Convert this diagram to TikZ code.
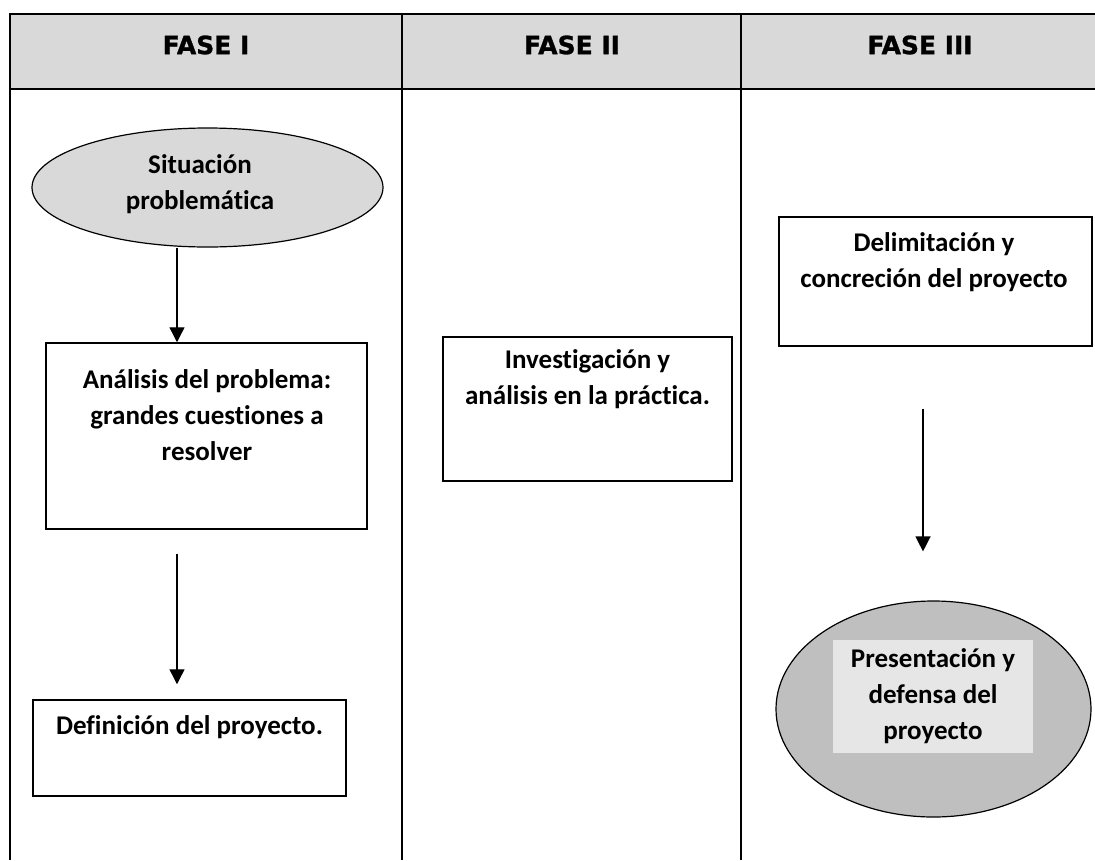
\documentclass[tikz,border=0pt]{standalone}
\usepackage{fontspec}
\setmainfont[Ligatures=NoCommon]{Carlito}
\newfontfamily\headfont[BoldFeatures={FakeBold=1.2}]{DejaVu Sans}
\usetikzlibrary{arrows.meta,shapes.geometric}

\definecolor{headgray}{HTML}{D9D9D9}
\definecolor{ovalgray}{HTML}{BFBFBF}
\definecolor{textgray}{HTML}{E6E6E6}

\begin{document}
\begin{tikzpicture}[x=1pt, y=-1pt,
		tab/.style={line width=2.3pt},
		box/.style={draw, line width=1.5pt, inner sep=0},
		oval/.style={draw, ellipse, line width=1.2pt, inner sep=0},
		txt/.style={align=center, font=\bfseries\fontsize{27}{36}\selectfont},
		head/.style={font=\headfont\bfseries\fontsize{25}{30}\selectfont},
		arr/.style={line width=1.4pt, -{Triangle[width=15pt,length=15pt]}}]
		
		\useasboundingbox (0,0) rectangle (1095,860);
		
		\fill [headgray] (10,14) rectangle (1095,89);
		\draw [tab] (10,860) -- (10,14) -- (1095,14);
		\draw [tab] (10,89) -- (1095,89);
		\draw [tab] (402,14) -- (402,860);
		\draw [tab] (741,14) -- (741,860);
		
		\node [head] (f1) at (206,45) {FASE I};
		\node [head] (f2) at (572,45) {FASE II};
		\node [head] (f3) at (920,45) {FASE III};
		
		\node [oval, fill=headgray, minimum width=351, minimum height=119] (sit) at (207.5,187.5) {};
		\node [txt] (sittxt) at (200,184.5) {Situación\\problemática};
		
		\node [box, minimum width=321, minimum height=186] (ana) at (206.5,436) {};
		\node [txt] (anatxt) at (207,415) {Análisis del problema:\\grandes cuestiones a\\resolver};
		
		\node [box, minimum width=313, minimum height=96] (def) at (189.5,748) {};
		\node [txt] (deftxt) at (189.5,727) {Definición del proyecto.};
		
		\node [box, minimum width=289, minimum height=144] (inv) at (587.5,409) {};
		\node [txt] (invtxt) at (587.5,379.5) {Investigación y\\análisis en la práctica.};
		
		\node [box, minimum width=313, minimum height=129] (del) at (935.5,281.5) {};
		\node [txt] (deltxt) at (934,262) {Delimitación y\\concreción del proyecto};
		
		\node [oval, fill=ovalgray, minimum width=315, minimum height=216] (pre) at (933.5,709) {};
		\node [txt, fill=textgray, minimum width=200, minimum height=113] (pretxt) at (933,696.5) {Presentación y\\defensa del\\proyecto};
		
		\draw [arr] ([xshift=-30.5]sit.south) -- ([xshift=-29.5]ana.north);
		\draw [arr] ([xshift=-29.5,yshift=-24]ana.south) -- ([xshift=-12.5,yshift=15]def.north);
		\draw [arr] ([xshift=-12.5,yshift=-62]del.south) -- ([xshift=-10.5,yshift=49]pre.north);
		
	\end{tikzpicture}
\end{document}
